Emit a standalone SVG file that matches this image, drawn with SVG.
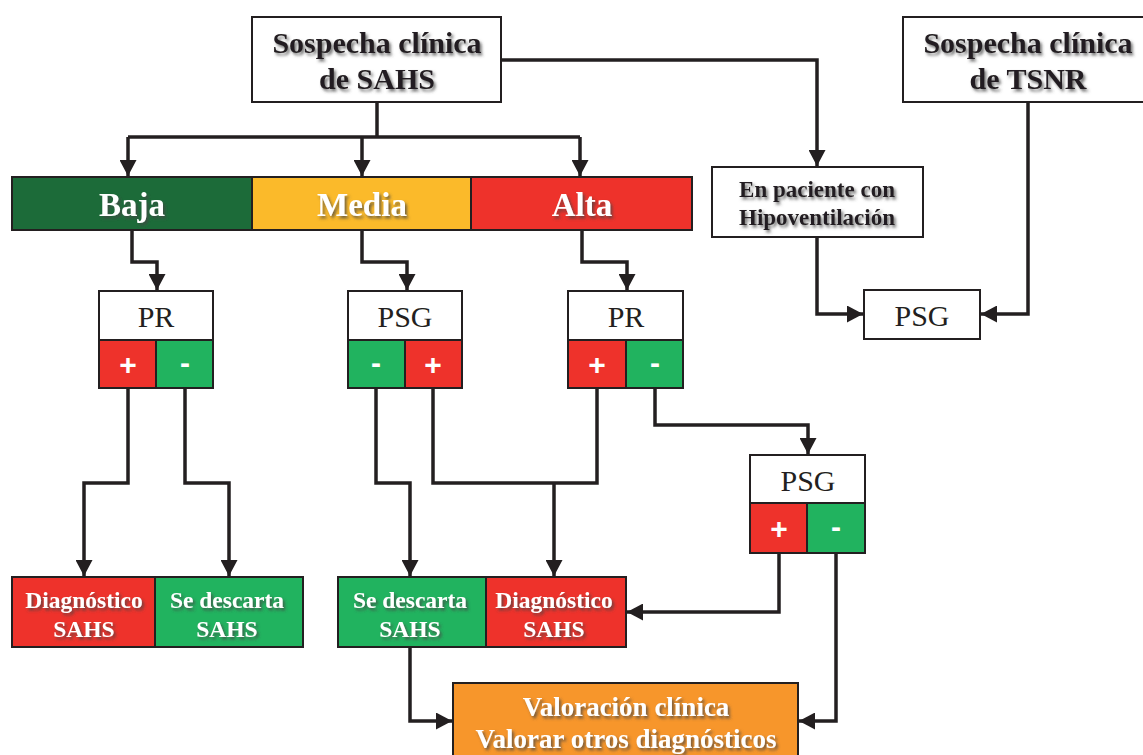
<svg xmlns="http://www.w3.org/2000/svg" width="1143" height="755" viewBox="0 0 1143 755">
<defs>
<marker id="ah" markerUnits="userSpaceOnUse" markerWidth="17" markerHeight="17" refX="16" refY="8.5" orient="auto">
<path d="M0,0 L16,8.5 L0,17 z" fill="#231f20"/>
</marker>
<filter id="sh" x="-10%" y="-20%" width="130%" height="160%">
<feDropShadow dx="2" dy="2.5" stdDeviation="1.6" flood-color="#444" flood-opacity="0.75"/>
</filter>
<style>
.box{stroke:#231f20;stroke-width:2}
.wh{fill:#fff}
.dg{fill:#1c6b39}
.ye{fill:#fbba2a}
.rd{fill:#ee322b}
.gr{fill:#21b35f}
.or{fill:#f7962b}
.t{font-family:"Liberation Serif","Times New Roman",serif;font-weight:bold;text-anchor:middle;filter:url(#sh)}
.dk{fill:#231f20}
.wt{fill:#fff}
.r{font-family:"Liberation Serif","Times New Roman",serif;text-anchor:middle;fill:#231f20;font-size:30px}
.s{font-family:"Liberation Sans",Arial,sans-serif;font-weight:bold;text-anchor:middle;fill:#fff;font-size:30px}
.c{fill:none;stroke:#231f20;stroke-width:3.5;stroke-linejoin:miter}
</style>
</defs>
<rect width="1143" height="755" fill="#fff"/>

<g id="connectors">
<path class="c" d="M377,102 V137"/>
<path class="c" d="M128,137 H580"/>
<path class="c" d="M128,137 V176" marker-end="url(#ah)"/>
<path class="c" d="M362,137 V176" marker-end="url(#ah)"/>
<path class="c" d="M580,137 V176" marker-end="url(#ah)"/>
<path class="c" d="M501,60 H817 V166" marker-end="url(#ah)"/>
<path class="c" d="M132,230 V262 H157 V290" marker-end="url(#ah)"/>
<path class="c" d="M362,230 V262 H407 V290" marker-end="url(#ah)"/>
<path class="c" d="M582,230 V262 H627 V290" marker-end="url(#ah)"/>
<path class="c" d="M817,237 V314 H863" marker-end="url(#ah)"/>
<path class="c" d="M1028,102 V314 H981" marker-end="url(#ah)"/>
<path class="c" d="M128,388 V483 H84 V576" marker-end="url(#ah)"/>
<path class="c" d="M185,388 V483 H229 V576" marker-end="url(#ah)"/>
<path class="c" d="M376,388 V483 H410 V576" marker-end="url(#ah)"/>
<path class="c" d="M433,388 V483 H597 V388"/>
<path class="c" d="M554,483 V576" marker-end="url(#ah)"/>
<path class="c" d="M655,388 V425 H808 V454" marker-end="url(#ah)"/>
<path class="c" d="M779,553 V612 H627" marker-end="url(#ah)"/>
<path class="c" d="M836,553 V721 H799" marker-end="url(#ah)"/>
<path class="c" d="M410,647 V721 H452" marker-end="url(#ah)"/>
</g>

<g id="sahs">
<rect class="box wh" x="252" y="17" width="249" height="85"/>
<text class="t dk" x="377" y="53" font-size="30">Sospecha clínica</text>
<text class="t dk" x="377" y="89" font-size="30">de SAHS</text>
</g>

<g id="tsnr">
<rect class="box wh" x="903" y="17" width="250" height="85"/>
<text class="t dk" x="1028" y="53" font-size="30">Sospecha clínica</text>
<text class="t dk" x="1028" y="89" font-size="30">de TSNR</text>
</g>

<g id="baja">
<rect class="box dg" x="12" y="177" width="240" height="53"/>
<text class="t wt" x="132" y="216" font-size="33">Baja</text>
</g>
<g id="media">
<rect class="box ye" x="252" y="177" width="219" height="53"/>
<text class="t wt" x="362" y="216" font-size="33">Media</text>
</g>
<g id="alta">
<rect class="box rd" x="471" y="177" width="221" height="53"/>
<text class="t wt" x="582" y="216" font-size="33">Alta</text>
</g>

<g id="hipo">
<rect class="box wh" x="712" y="167" width="211" height="70"/>
<text class="t dk" x="817" y="197" font-size="23">En paciente con</text>
<text class="t dk" x="817" y="225" font-size="23">Hipoventilación</text>
</g>

<g id="psg-right">
<rect class="box wh" x="864" y="290" width="116" height="49"/>
<text class="r" x="922" y="326">PSG</text>
</g>

<g id="pr1">
<rect class="box wh" x="99" y="291" width="114" height="49"/>
<text class="r" x="156" y="327">PR</text>
<rect class="box rd" x="99" y="340" width="57" height="48"/>
<rect class="box gr" x="156" y="340" width="57" height="48"/>
<text class="s" x="128" y="375">+</text>
<text class="s" x="185" y="373">-</text>
</g>

<g id="psg1">
<rect class="box wh" x="348" y="291" width="114" height="49"/>
<text class="r" x="405" y="327">PSG</text>
<rect class="box gr" x="348" y="340" width="57" height="48"/>
<rect class="box rd" x="405" y="340" width="57" height="48"/>
<text class="s" x="376" y="373">-</text>
<text class="s" x="433" y="375">+</text>
</g>

<g id="pr2">
<rect class="box wh" x="568" y="291" width="115" height="49"/>
<text class="r" x="626" y="327">PR</text>
<rect class="box rd" x="568" y="340" width="58" height="48"/>
<rect class="box gr" x="626" y="340" width="57" height="48"/>
<text class="s" x="597" y="375">+</text>
<text class="s" x="655" y="373">-</text>
</g>

<g id="psg2">
<rect class="box wh" x="750" y="455" width="115" height="48"/>
<text class="r" x="808" y="491">PSG</text>
<rect class="box rd" x="750" y="503" width="57" height="50"/>
<rect class="box gr" x="807" y="503" width="58" height="50"/>
<text class="s" x="779" y="539">+</text>
<text class="s" x="836" y="537">-</text>
</g>

<g id="diag1">
<rect class="box rd" x="12" y="577" width="143" height="70"/>
<text class="t wt" x="84" y="608" font-size="23.5">Diagnóstico</text>
<text class="t wt" x="84" y="637" font-size="23.5">SAHS</text>
</g>
<g id="desc1">
<rect class="box gr" x="155" y="577" width="148" height="70"/>
<text class="t wt" x="227" y="608" font-size="23.5">Se descarta</text>
<text class="t wt" x="227" y="637" font-size="23.5">SAHS</text>
</g>
<g id="desc2">
<rect class="box gr" x="338" y="577" width="148" height="70"/>
<text class="t wt" x="410" y="608" font-size="23.5">Se descarta</text>
<text class="t wt" x="410" y="637" font-size="23.5">SAHS</text>
</g>
<g id="diag2">
<rect class="box rd" x="486" y="577" width="140" height="70"/>
<text class="t wt" x="554" y="608" font-size="23.5">Diagnóstico</text>
<text class="t wt" x="554" y="637" font-size="23.5">SAHS</text>
</g>

<g id="valoracion">
<rect class="box or" x="453" y="683" width="345" height="80"/>
<text class="t wt" x="626" y="716" font-size="27">Valoración clínica</text>
<text class="t wt" x="626" y="748" font-size="27">Valorar otros diagnósticos</text>
</g>
</svg>
